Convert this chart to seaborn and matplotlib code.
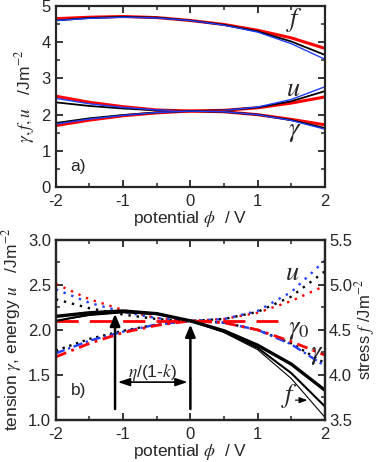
import numpy as np
import pandas as pd
import matplotlib
matplotlib.use("Agg")
import matplotlib.pyplot as plt
import seaborn as sns
from matplotlib.ticker import MultipleLocator, FormatStrFormatter

# potential values (V)
phi = [-2, -1.5, -1, -0.5, 0, 0.5, 1, 1.5, 2]

# stress f
f_black = [4.60, 4.67, 4.70, 4.68, 4.60, 4.48, 4.30, 4.02, 3.65]
f_red = [4.65, 4.69, 4.71, 4.68, 4.60, 4.49, 4.33, 4.12, 3.83]
f_blue = [4.60, 4.66, 4.69, 4.67, 4.60, 4.47, 4.28, 3.96, 3.53]

# energy u
u_black = [2.34, 2.24, 2.17, 2.12, 2.10, 2.12, 2.20, 2.37, 2.65]
u_blue = [2.45, 2.30, 2.20, 2.13, 2.10, 2.12, 2.21, 2.42, 2.77]
u_red = [2.51, 2.34, 2.22, 2.13, 2.10, 2.12, 2.19, 2.32, 2.49]

# tension gamma
g_black = [1.77, 1.90, 1.99, 2.06, 2.10, 2.08, 2.00, 1.85, 1.63]
g_blue = [1.74, 1.88, 1.98, 2.06, 2.10, 2.08, 2.00, 1.84, 1.60]
g_red = [1.70, 1.85, 1.97, 2.05, 2.10, 2.08, 2.00, 1.87, 1.72]

gamma0 = 2.1
gamma0_end = 1.3
phi_max = -1.12

df = pd.DataFrame({"phi": phi,
                   "f_black": f_black, "f_red": f_red, "f_blue": f_blue,
                   "u_black": u_black, "u_red": u_red, "u_blue": u_blue,
                   "g_black": g_black, "g_red": g_red, "g_blue": g_blue})

sns.set_theme(style="ticks")
plt.rcParams['font.family'] = ['Liberation Sans', 'DejaVu Sans']
plt.rcParams['mathtext.fontset'] = 'stix'
plt.rcParams['axes.unicode_minus'] = False
plt.rcParams['axes.linewidth'] = 1.6
plt.rcParams['xtick.direction'] = 'in'
plt.rcParams['ytick.direction'] = 'in'
plt.rcParams['xtick.major.width'] = 1.3
plt.rcParams['ytick.major.width'] = 1.3
plt.rcParams['xtick.minor.width'] = 1.1
plt.rcParams['ytick.minor.width'] = 1.1
plt.rcParams['xtick.major.size'] = 5
plt.rcParams['ytick.major.size'] = 5
plt.rcParams['xtick.minor.size'] = 3
plt.rcParams['ytick.minor.size'] = 3

fig = plt.figure(figsize=(3.8, 4.62), dpi=100)
ax1 = fig.add_axes([0.147, 0.595, 0.708, 0.392])
ax2 = fig.add_axes([0.147, 0.091, 0.708, 0.39])

colors = {"black": "black", "red": "red", "blue": "#1f3fff"}
widths = {"black": 1.3, "red": 2.2, "blue": 1.0}

# ---- panel a)
for name in ["f", "u", "g"]:
    for c in ["red", "black", "blue"]:
        sns.lineplot(data=df, x="phi", y=f"{name}_{c}", ax=ax1, color=colors[c],
                     lw=widths[c], legend=False)

ax1.set_xlim(-2, 2)
ax1.set_ylim(0, 5)
ax1.xaxis.set_major_locator(MultipleLocator(1))
ax1.xaxis.set_minor_locator(MultipleLocator(0.5))
ax1.yaxis.set_major_locator(MultipleLocator(1))
ax1.yaxis.set_minor_locator(MultipleLocator(0.5))
ax1.tick_params(which="both", top=True, right=True, labelsize=12)
ax1.tick_params(axis="x", pad=5)
ax1.set_xlabel(r"potential $\phi$  / V", fontsize=12.5, labelpad=0)
ax1.set_ylabel(r"$\gamma, f, u$   /Jm$^{-2}$", fontsize=12.5, labelpad=3)
ax1.text(1.42, 4.45, r"$f$", fontsize=19)
ax1.text(1.42, 2.52, r"$u$", fontsize=19)
ax1.text(1.45, 1.4, r"$\gamma$", fontsize=19)
ax1.text(-1.78, 0.45, "a)", fontsize=12.5)

# ---- panel b)
ax3 = ax2.twinx()
for c in ["red", "blue", "black"]:
    sns.lineplot(data=df, x="phi", y=f"u_{c}", ax=ax2, color=colors[c],
                 lw=1.7, linestyle=(0, (1, 2.5)), legend=False)
sns.lineplot(data=df, x="phi", y="g_black", ax=ax2, color="black",
             lw=1.7, linestyle=(0, (1, 2)), legend=False)
sns.lineplot(data=df, x="phi", y="g_blue", ax=ax2, color=colors["blue"],
             lw=1.7, linestyle=(0, (4, 1.5, 1, 1.5)), legend=False)
sns.lineplot(data=df, x="phi", y="g_red", ax=ax2, color="red",
             lw=2.0, linestyle=(0, (4, 2, 1, 2)), legend=False)
ax2.plot([-2, gamma0_end], [gamma0, gamma0], color="red", lw=2.0,
         linestyle=(0, (8, 4)))

for c, lw in [("red", 2.4), ("black", 1.5), ("blue", 0.8)]:
    sns.lineplot(data=df, x="phi", y=f"f_{c}", ax=ax3, color="black", lw=lw,
                 legend=False)

arrow = dict(arrowstyle="-|>,head_width=0.25,head_length=0.6", color="black", lw=1.8)
ax2.annotate("", xy=(phi_max, 2.21), xytext=(phi_max, 1.09), arrowprops=arrow)
ax2.annotate("", xy=(0, 2.09), xytext=(0, 1.09), arrowprops=arrow)
ax2.annotate("", xy=(phi_max, 1.42), xytext=(0, 1.42),
             arrowprops=dict(arrowstyle="<|-|>,head_width=0.2,head_length=0.6",
                             color="black", lw=1.2))
ax2.text(phi_max / 2, 1.48, r"$\eta$/(1-$k$)", fontsize=12.5, ha="center")

ax2.set_xlim(-2, 2)
ax2.set_ylim(1.0, 3.0)
ax3.set_ylim(3.5, 5.5)
ax2.xaxis.set_major_locator(MultipleLocator(1))
ax2.xaxis.set_minor_locator(MultipleLocator(0.5))
ax2.yaxis.set_major_locator(MultipleLocator(0.5))
ax2.yaxis.set_minor_locator(MultipleLocator(0.25))
ax3.yaxis.set_major_locator(MultipleLocator(0.5))
ax3.yaxis.set_minor_locator(MultipleLocator(0.25))
ax2.yaxis.set_major_formatter(FormatStrFormatter("%.1f"))
ax3.yaxis.set_major_formatter(FormatStrFormatter("%.1f"))
ax2.tick_params(which="both", top=True, labelsize=12)
ax2.tick_params(axis="x", pad=5)
ax3.tick_params(which="both", labelsize=12, pad=3)
ax2.set_xlabel(r"potential $\phi$  / V", fontsize=12.5, labelpad=0)
ax2.set_ylabel(r"tension $\gamma$, energy $u$   /Jm$^{-2}$", fontsize=12.5,
               labelpad=3)
ax3.set_ylabel(r"stress $f$ /Jm$^{-2}$", fontsize=12, labelpad=1)
ax2.text(1.4, 2.55, r"$u$", fontsize=19)
ax2.text(1.45, 1.95, r"$\gamma_0$", fontsize=19)
ax2.text(1.78, 1.68, r"$\gamma$", fontsize=19)
ax2.text(1.35, 1.2, r"$f$", fontsize=19)
ax2.annotate("", xy=(1.78, 1.22), xytext=(1.52, 1.22),
             arrowprops=dict(arrowstyle="-|>,head_width=0.15,head_length=0.4",
                             color="black", lw=0.8))
ax2.text(-1.78, 1.28, "b)", fontsize=12.5)

fig.savefig("out.png", dpi=100)
